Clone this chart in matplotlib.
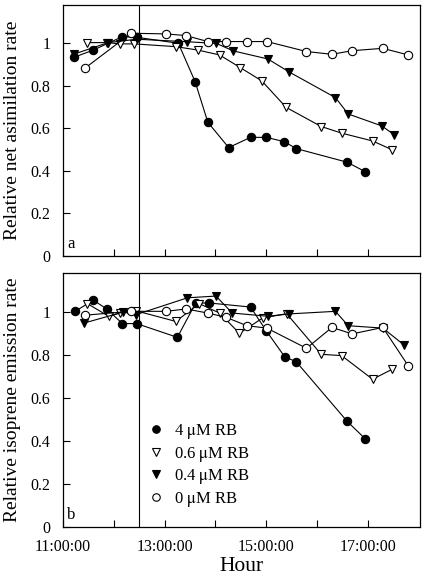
import matplotlib
matplotlib.use('Agg')
from matplotlib import pyplot as plt
from matplotlib.ticker import FixedLocator, FuncFormatter

plt.rcParams['font.family'] = ['Liberation Serif', 'DejaVu Serif']
plt.rcParams['mathtext.fontset'] = 'stix'

# > panel a: relative net assimilation rate (time in decimal hours)
a_t_4 = [11.22, 11.60, 12.17, 12.45, 13.27, 13.60, 13.85, 14.26, 14.69, 15.00, 15.35, 15.59, 16.59, 16.94]
a_v_4 = [0.935, 0.969, 1.032, 1.029, 1.001, 0.820, 0.629, 0.510, 0.558, 0.558, 0.538, 0.505, 0.441, 0.397]
a_t_06 = [11.48, 11.87, 12.12, 12.40, 13.22, 13.65, 14.08, 14.49, 14.91, 15.39, 16.08, 16.48, 17.09, 17.48]
a_v_06 = [1.004, 1.004, 0.998, 0.998, 0.985, 0.969, 0.946, 0.886, 0.824, 0.699, 0.609, 0.578, 0.541, 0.499]
a_t_04 = [11.22, 11.89, 12.45, 13.45, 14.02, 14.35, 15.03, 15.44, 16.36, 16.61, 17.27, 17.51]
a_v_04 = [0.950, 1.004, 1.020, 1.008, 1.000, 0.965, 0.927, 0.867, 0.745, 0.668, 0.612, 0.571]
a_t_0 = [11.43, 12.34, 13.03, 13.42, 13.85, 14.21, 14.62, 15.01, 15.79, 16.29, 16.69, 17.29, 17.79]
a_v_0 = [0.883, 1.048, 1.045, 1.037, 1.009, 1.009, 1.009, 1.009, 0.962, 0.949, 0.966, 0.977, 0.946]

# > panel b: relative isoprene emission rate
b_t_4 = [11.24, 11.60, 11.86, 12.17, 12.45, 13.25, 13.61, 13.87, 14.69, 15.00, 15.36, 15.59, 16.59, 16.94]
b_v_4 = [1.003, 1.055, 1.014, 0.946, 0.946, 0.882, 1.041, 1.042, 1.023, 0.912, 0.792, 0.768, 0.491, 0.411]
b_t_06 = [11.48, 11.90, 12.12, 12.43, 13.22, 13.68, 14.08, 14.47, 14.93, 15.40, 16.08, 16.48, 17.09, 17.48]
b_v_06 = [1.039, 0.980, 0.995, 1.006, 0.956, 1.039, 0.995, 0.901, 0.972, 0.992, 0.803, 0.797, 0.687, 0.734]
b_t_04 = [11.41, 12.19, 12.43, 13.45, 14.01, 14.33, 15.03, 15.45, 16.36, 16.61, 17.29, 17.71]
b_v_04 = [0.948, 1.000, 0.987, 1.066, 1.074, 0.995, 0.980, 0.991, 1.003, 0.936, 0.925, 0.846]
b_t_0 = [11.43, 12.34, 13.03, 13.42, 13.85, 14.21, 14.62, 15.01, 15.79, 16.29, 16.69, 17.29, 17.79]
b_v_0 = [0.985, 1.003, 1.003, 1.014, 0.995, 0.975, 0.936, 0.925, 0.831, 0.928, 0.898, 0.928, 0.750]

series_labels = ['4 $\\mathrm{\\mu}$M RB', '0.6 $\\mathrm{\\mu}$M RB', '0.4 $\\mathrm{\\mu}$M RB', '0 $\\mathrm{\\mu}$M RB']
hour_ticks = [11, 12, 13, 14, 15, 16, 17]
treatment_start = 12.5


def draw_panel(ax, series, letter):
    styles = [
        dict(marker='o', mfc='black'),
        dict(marker='v', mfc='white'),
        dict(marker='v', mfc='black'),
        dict(marker='o', mfc='white'),
    ]
    handles = []
    for (t, v), st, lab in zip(series, styles, series_labels):
        h, = ax.plot(t, v, color='black', lw=0.8, ms=6, mec='black', mew=0.8, label=lab, **st)
        handles.append(h)
    ax.axvline(treatment_start, color='black', lw=0.8)
    ax.set_xlim(11, 18.02)
    ax.set_ylim(0, 1.18)
    ax.xaxis.set_major_locator(FixedLocator(hour_ticks))
    ax.xaxis.set_major_formatter(FuncFormatter(lambda x, p: '%d:00:00' % x if int(x) % 2 == 1 else ''))
    ax.yaxis.set_major_locator(FixedLocator([0, 0.2, 0.4, 0.6, 0.8, 1.0]))
    ax.yaxis.set_major_formatter(FuncFormatter(lambda y, p: '%g' % round(y, 1)))
    ax.tick_params(direction='in', length=5, width=0.8, labelsize=11.5)
    ax.tick_params(axis='x', pad=9)
    ax.tick_params(axis='y', pad=9)
    for s in ax.spines.values():
        s.set_linewidth(0.9)
    ax.text(0.012, 0.015, letter, transform=ax.transAxes, fontsize=12, ha='left', va='bottom')
    return handles


def main():
    fig = plt.figure(figsize=(4.25, 5.79), dpi=100)
    ax_a = fig.add_axes([0.148, 0.558, 0.840, 0.433])
    ax_b = fig.add_axes([0.148, 0.090, 0.840, 0.438])

    draw_panel(ax_a, [(a_t_4, a_v_4), (a_t_06, a_v_06), (a_t_04, a_v_04), (a_t_0, a_v_0)], 'a')
    handles = draw_panel(ax_b, [(b_t_4, b_v_4), (b_t_06, b_v_06), (b_t_04, b_v_04), (b_t_0, b_v_0)], 'b')
    ax_a.tick_params(labelbottom=False)

    ax_a.set_ylabel('Relative net asimilation rate', fontsize=14)
    ax_b.set_ylabel('Relative isoprene emission rate', fontsize=14)
    ax_a.yaxis.set_label_coords(-0.118, 0.5)
    ax_b.yaxis.set_label_coords(-0.118, 0.5)
    ax_b.set_xlabel('Hour', fontsize=15.5, labelpad=1)

    ax_b.legend(handles=handles, loc='lower left', bbox_to_anchor=(0.205, 0.012), frameon=False,
                fontsize=12, handlelength=0.6, handletextpad=0.8, labelspacing=0.22,
                markerscale=0.9)
    for line in ax_b.get_legend().get_lines():
        line.set_linestyle('')

    fig.savefig('out.png', dpi=100)


if __name__ == '__main__':
    main()
